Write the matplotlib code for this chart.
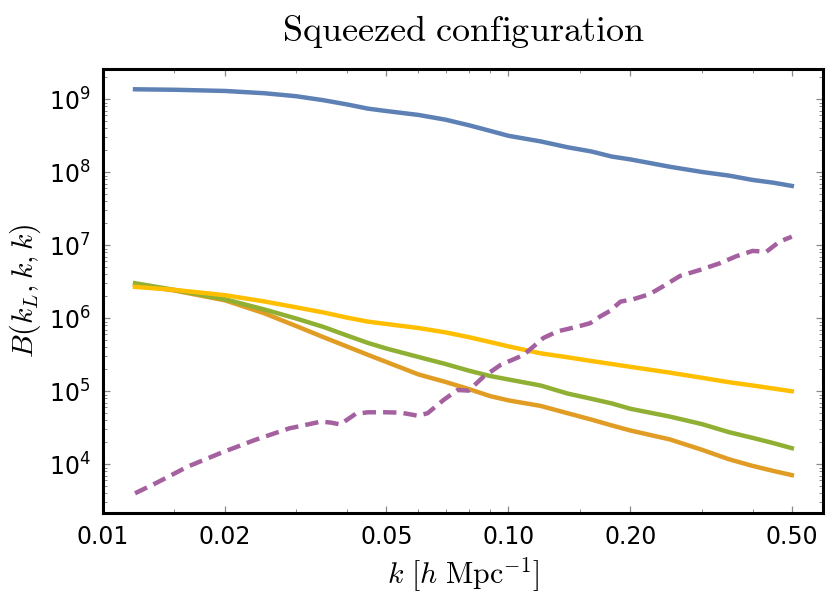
import numpy as np
import matplotlib
matplotlib.use('Agg')
import matplotlib.pyplot as plt
from matplotlib.ticker import FixedLocator, NullFormatter, LogLocator

# common k grid for the four solid curves [h/Mpc]
k = [0.012, 0.015, 0.02, 0.025, 0.03, 0.035, 0.04, 0.045, 0.05, 0.06, 0.07, 0.08, 0.09,
     0.1, 0.12, 0.14, 0.16, 0.18, 0.2, 0.25, 0.3, 0.35, 0.4, 0.45, 0.5]

b_blue = [1.37e9, 1.35e9, 1.30e9, 1.21e9, 1.10e9, 9.7e8, 8.5e8, 7.45e8, 6.9e8, 6.1e8, 5.25e8, 4.4e8, 3.7e8,
          3.16e8, 2.65e8, 2.2e8, 1.93e8, 1.64e8, 1.50e8, 1.19e8, 1.01e8, 9.0e7, 7.85e7, 7.2e7, 6.5e7]
b_yellow = [2.69e6, 2.45e6, 2.07e6, 1.70e6, 1.41e6, 1.20e6, 1.02e6, 9.0e5, 8.35e5, 7.35e5, 6.4e5, 5.5e5, 4.73e5,
            4.12e5, 3.31e5, 2.92e5, 2.60e5, 2.36e5, 2.16e5, 1.80e5, 1.53e5, 1.33e5, 1.20e5, 1.09e5, 1.0e5]
b_green = [3.02e6, 2.45e6, 1.82e6, 1.32e6, 9.9e5, 7.6e5, 5.8e5, 4.6e5, 3.85e5, 2.95e5, 2.36e5, 1.91e5, 1.62e5,
           1.45e5, 1.20e5, 9.3e4, 7.9e4, 6.8e4, 5.75e4, 4.5e4, 3.55e4, 2.75e4, 2.3e4, 1.95e4, 1.66e4]
b_orange = [2.88e6, 2.40e6, 1.76e6, 1.17e6, 7.8e5, 5.5e5, 4.1e5, 3.16e5, 2.52e5, 1.70e5, 1.34e5, 1.07e5, 8.6e4,
            7.5e4, 6.3e4, 5.0e4, 4.1e4, 3.4e4, 2.9e4, 2.19e4, 1.58e4, 1.17e4, 9.5e3, 8.1e3, 7.1e3]

# dashed curve has its own sampling (it wiggles)
k_purple = [0.0120, 0.0135, 0.0162, 0.0196, 0.0237, 0.0288, 0.0308, 0.0345, 0.0365, 0.0385, 0.0420, 0.0450,
            0.0500, 0.0543, 0.0598, 0.0632, 0.0692, 0.0749, 0.0798, 0.0868, 0.0956, 0.109, 0.122, 0.132,
            0.148, 0.159, 0.168, 0.178, 0.189, 0.203, 0.223, 0.240, 0.265, 0.296, 0.332, 0.365, 0.400,
            0.433, 0.466, 0.500]
b_purple = [4.0e3, 5.5e3, 9.3e3, 1.44e4, 2.15e4, 3.1e4, 3.35e4, 3.84e4, 3.72e4, 3.51e4, 4.9e4, 5.15e4,
            5.15e4, 5.09e4, 4.62e4, 5.0e4, 7.6e4, 1.04e5, 1.02e5, 1.58e5, 2.29e5, 3.14e5, 5.37e5, 6.6e5,
            7.67e5, 8.55e5, 1.05e6, 1.26e6, 1.69e6, 1.82e6, 2.14e6, 2.71e6, 3.8e6, 4.57e6, 5.66e6, 7.08e6,
            8.36e6, 8.17e6, 1.12e7, 1.31e7]

x_major = [0.01, 0.02, 0.05, 0.1, 0.2, 0.5]
x_major_labels = ['0.01', '0.02', '0.05', '0.10', '0.20', '0.50']
x_minor = [0.015, 0.03, 0.04, 0.06, 0.07, 0.08, 0.09, 0.15, 0.3, 0.4]

fig = plt.figure(figsize=(8.3, 6.04), dpi=100)
ax = fig.add_axes([0.124, 0.1507, 0.8676, 0.7351])

lw = 3.2
ax.plot(k, b_blue, color='#5E81B5', lw=lw, solid_joinstyle='round')
ax.plot(k, b_orange, color='#E19C24', lw=lw, solid_joinstyle='round')
ax.plot(k, b_green, color='#8FB032', lw=lw, solid_joinstyle='round')
ax.plot(k, b_yellow, color='#FFBF00', lw=lw, solid_joinstyle='round')
ax.plot(k_purple, b_purple, color='#A5609F', lw=lw, dashes=(3, 1.6))

ax.set_xscale('log')
ax.set_yscale('log')
ax.set_xlim(0.01, 0.597)
ax.set_ylim(2.15e3, 2.6e9)

ax.xaxis.set_major_locator(FixedLocator(x_major))
ax.xaxis.set_minor_locator(FixedLocator(x_minor))
ax.set_xticklabels(x_major_labels)
ax.xaxis.set_minor_formatter(NullFormatter())
ax.yaxis.set_major_locator(FixedLocator([1e4, 1e5, 1e6, 1e7, 1e8, 1e9]))
ax.yaxis.set_minor_locator(LogLocator(base=10, subs=np.arange(2, 10), numticks=20))
ax.yaxis.set_minor_formatter(NullFormatter())

ax.tick_params(which='both', direction='in', top=True, right=True, color='#888888', labelsize=17)
ax.tick_params(which='major', length=5, width=0.9, pad=9)
ax.tick_params(which='minor', length=3, width=0.7)
for s in ax.spines.values():
    s.set_linewidth(2.2)

ax.set_xlabel(r'$k\ [h\ \mathrm{Mpc}^{-1}]$', fontsize=21.5, math_fontfamily='cm', labelpad=4)
ax.set_ylabel(r'$B(k_L, k, k)$', fontsize=21.5, math_fontfamily='cm', labelpad=4)
ax.set_title(r'$\mathrm{Squeezed\ configuration}$', fontsize=26, math_fontfamily='cm', pad=20)

fig.savefig('out.png', dpi=100)
